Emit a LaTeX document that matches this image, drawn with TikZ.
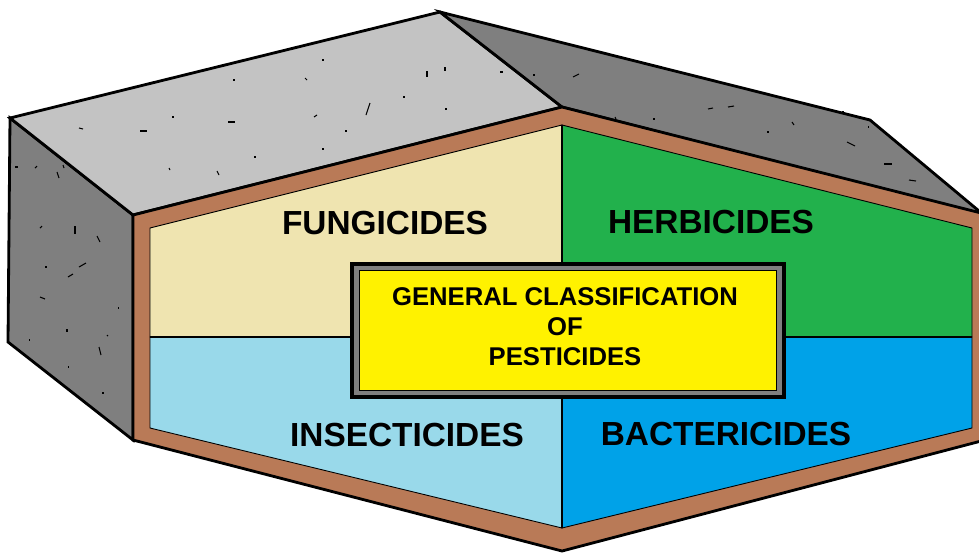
\documentclass[tikz,border=0pt]{standalone}
\usepackage{fontspec}
\setmainfont{Liberation Sans}
\usepackage{tikz}
\usetikzlibrary{positioning}
\usepackage{xcolor}
\definecolor{roofgray}{HTML}{C3C3C3}
\definecolor{sidegray}{HTML}{7F7F7F}
\definecolor{rim}{HTML}{B97A57}
\definecolor{fungi}{HTML}{EFE4B0}
\definecolor{herbi}{HTML}{22B14C}
\definecolor{insecti}{HTML}{99D9EA}
\definecolor{bacteri}{HTML}{00A2E8}
\definecolor{titlebg}{HTML}{FFF200}

\begin{document}
\begin{tikzpicture}[x=0.02cm, y=-0.02cm,
  edge/.style={draw=black, line width=1.6pt, line join=miter},
  part/.style={draw=black, line width=0.5pt},
  divide/.style={black, line width=1.6pt},
  speck/.style={black, line width=0.6pt},
  lbl/.style={font=\fontsize{19}{22}\selectfont\bfseries, inner sep=0pt},
  ttl/.style={font=\fontsize{14.6}{17}\selectfont\bfseries, align=center, inner sep=0pt}
]
\useasboundingbox (0,0) rectangle (979,552);
\clip (0,0) rectangle (979,552);
% block faces
\filldraw[edge, fill=sidegray] (10,118) -- (133,215) -- (133,440) -- (8,342) -- cycle;
\filldraw[edge, fill=roofgray] (10,118) -- (440,12) -- (562,107) -- (133,215) -- cycle;
\filldraw[edge, fill=sidegray] (440,12) -- (870,120) -- (985,216) -- (562,107) -- cycle;
\foreach \x/\y/\dx/\dy in {79/128/4/1, 140/131/7/0, 172/117/2/0, 228/122/7/0, 233/80/2/0, 305/78/2/2,
    322/60/2/0, 314/117/3/-2, 370/103/-4/12, 427/71/0/6, 445/67/0/4, 403/97/2/0, 446/108/0/2,
    345/131/2/0, 322/149/2/0, 254/157/2/0, 217/171/2/4, 169/168/1/2, 500/72/3/0, 533/75/2/0,
    573/77/6/-3, 708/109/5/-1, 728/107/6/-1, 615/117/1/2, 653/119/2/0, 767/132/2/0, 792/122/2/3,
    842/112/2/0, 847/142/8/4, 884/164/8/0, 909/180/7/1, 868/127/1/0,
    15/167/3/0, 35/168/2/-2, 57/172/2/6, 63/165/1/3, 40/228/2/-2, 75/226/0/8, 97/236/3/6,
    79/267/7/-4, 45/267/2/0, 68/277/5/-3, 40/297/5/2, 67/329/0/3, 99/347/2/8, 107/335/1/1,
    118/308/1/0, 103/392/0/2, 68/367/1/0, 29/340/1/0}
  \draw[speck] (\x,\y) -- ++(\dx,\dy);
% front panel
\filldraw[edge, fill=rim] (133,215) -- (562,107) -- (985,214) -- (985,440) -- (562,551) -- (133,440) -- cycle;
\filldraw[part, fill=fungi] (150,228) -- (562,125) -- (562,337) -- (150,337) -- cycle;
\filldraw[part, fill=herbi] (562,125) -- (972,228) -- (972,337) -- (562,337) -- cycle;
\filldraw[part, fill=insecti] (150,337) -- (562,337) -- (562,528) -- (150,428) -- cycle;
\filldraw[part, fill=bacteri] (562,337) -- (972,337) -- (972,428) -- (562,528) -- cycle;
\draw[divide] (150,337) -- (972,337);
\draw[divide] (562,125) -- (562,528);
% title box
\filldraw[draw=black, line width=2pt, fill=sidegray] (352,264) rectangle (784,397);
\filldraw[part, fill=titlebg] (359,270) rectangle (776,390);
\node[lbl] (fung) at (385,223) {FUNGICIDES};
\node[lbl] (herb) at (711,222) {HERBICIDES};
\node[lbl] (insect) at (407,435) {INSECTICIDES};
\node[lbl] (bact) at (726,434) {BACTERICIDES};
\node[ttl] (title) at (565,327) {GENERAL CLASSIFICATION\\ OF\\ PESTICIDES};
\end{tikzpicture}
\end{document}
